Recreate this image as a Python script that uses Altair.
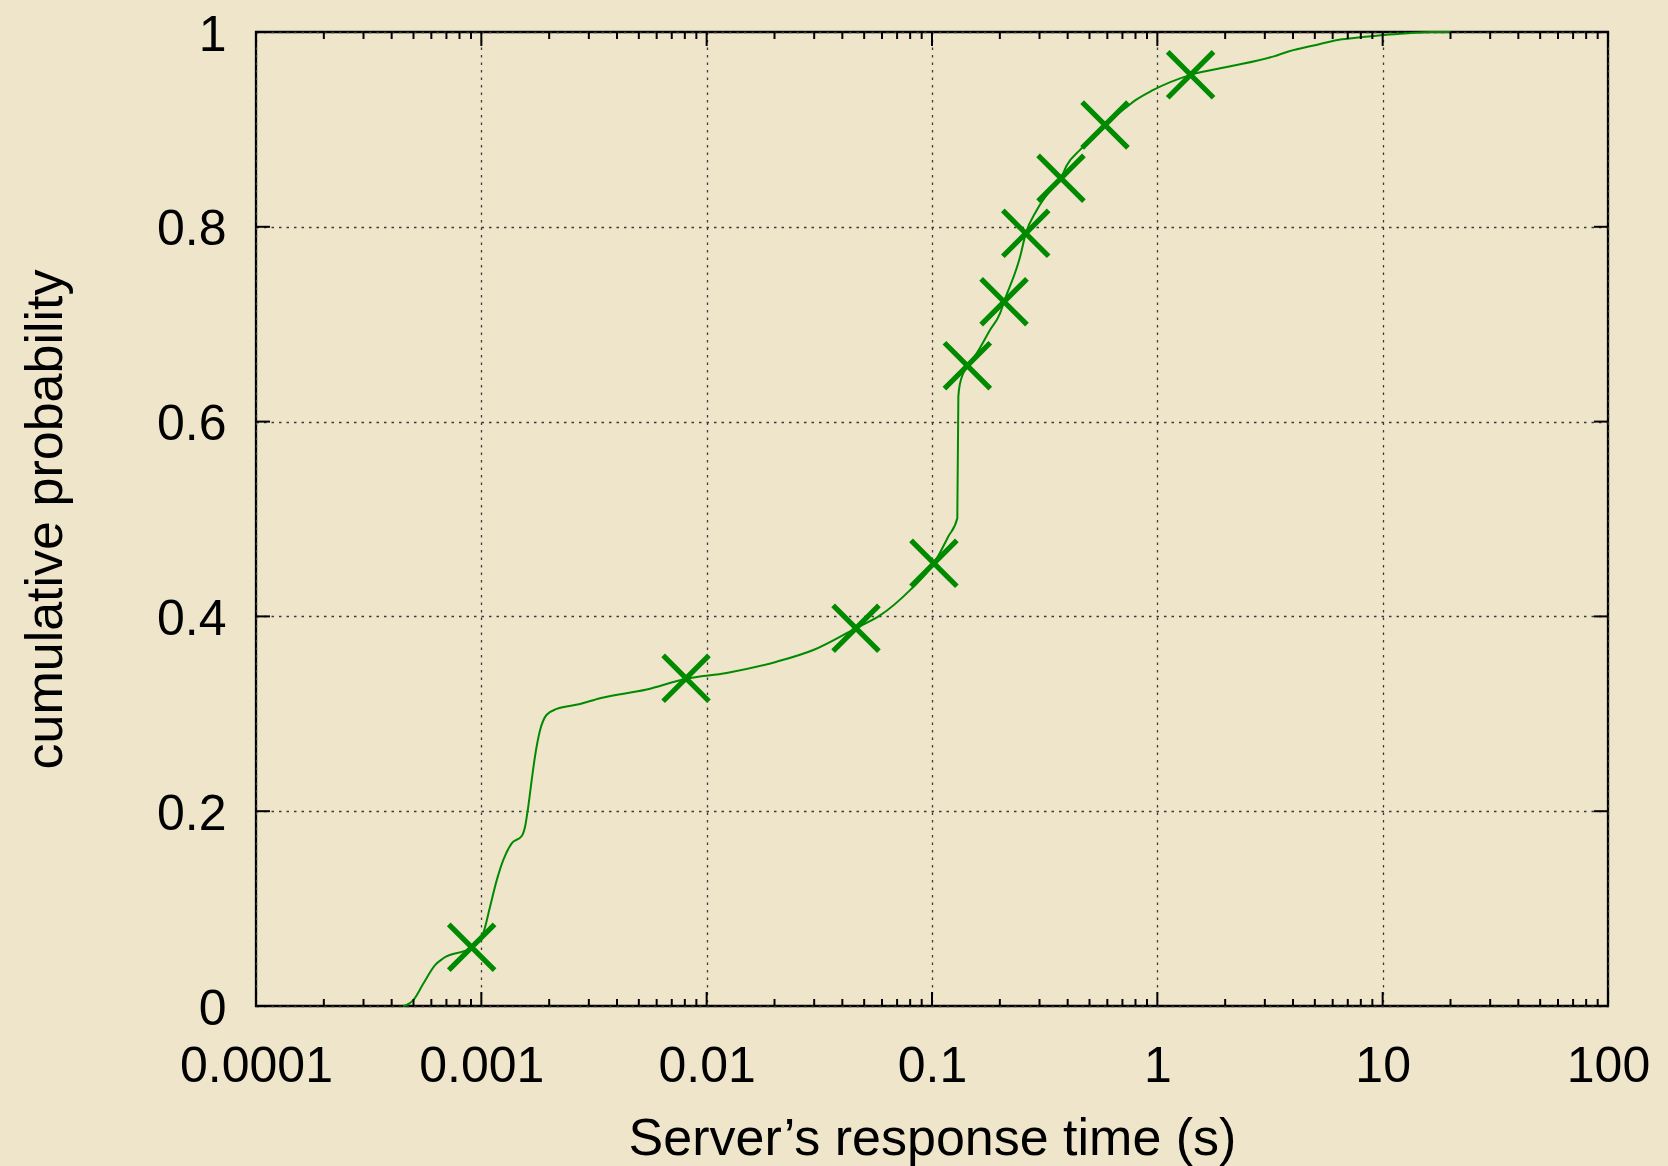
import altair as alt
import pandas as pd

# ---- data ----
curve_x = [0.000449, 0.000466, 0.000499, 0.000553, 0.000623, 0.000678, 0.000906, 0.00102,
           0.001093, 0.00117, 0.001252, 0.001364, 0.001511, 0.001563, 0.001616, 0.001673,
           0.00173, 0.001822, 0.00195, 0.00216, 0.00274, 0.00336, 0.00542, 0.0081, 0.01227,
           0.02046, 0.02974, 0.046, 0.0588, 0.0799, 0.102, 0.1181, 0.1295, 0.1309, 0.1331,
           0.1435, 0.1578, 0.1809, 0.2004, 0.2088, 0.2458, 0.2606, 0.2915, 0.3454, 0.3737,
           0.396, 0.454, 0.5027, 0.586, 0.731, 0.80, 0.95, 1.405, 2.03, 3.29, 3.82, 5.13,
           6.4, 8.0, 10.2, 12.96, 16.5, 20.0]
curve_p = [0.0, 0.001, 0.006, 0.023, 0.042, 0.049, 0.060, 0.075,
           0.102, 0.129, 0.150, 0.167, 0.1745, 0.184, 0.205, 0.232,
           0.256, 0.283, 0.299, 0.305, 0.310, 0.316, 0.325, 0.336, 0.342,
           0.3535, 0.3655, 0.388, 0.401, 0.427, 0.4545, 0.482, 0.5007, 0.6256, 0.639,
           0.657, 0.670, 0.694, 0.711, 0.723, 0.769, 0.793, 0.817, 0.841, 0.850,
           0.863, 0.879, 0.889, 0.9045, 0.923, 0.930, 0.940, 0.956, 0.964, 0.975, 0.980, 0.987,
           0.992, 0.9945, 0.997, 0.9987, 1.0, 1.0]

marker_x = [0.000906, 0.0081, 0.046, 0.102, 0.1435, 0.2088, 0.2606, 0.3737, 0.586, 1.405]
marker_p = [0.0603, 0.3364, 0.3878, 0.4545, 0.6574, 0.7231, 0.7933, 0.8498, 0.9045, 0.956]

x_major = [0.0001, 0.001, 0.01, 0.1, 1, 10, 100]
y_major = [0, 0.2, 0.4, 0.6, 0.8, 1.0]
minor_mult = [2, 3, 4, 5, 6, 7, 8, 9]

x_title = "Server’s response time (s)"
y_title = "cumulative probability"

# ---- styling ----
W, H = 1352, 974
GREEN = "#008A00"
BG = "#EFE5CA"
FONT = "Liberation Sans"
FS = 50
TFS = 52
MAJ, MIN = 14, 7

curve_df = pd.DataFrame({"t": curve_x, "p": curve_p})
marker_df = pd.DataFrame({"t": marker_x, "p": marker_p})
xmaj_df = pd.DataFrame({"t": x_major})
xmin_df = pd.DataFrame({"t": [m * d for d in x_major[:-1] for m in minor_mult]})
ymaj_df = pd.DataFrame({"p": y_major})

xscale = alt.Scale(type="log", domain=[0.0001, 100])
yscale = alt.Scale(domain=[0, 1])

x_axis = alt.Axis(
    values=x_major, format="~g", ticks=False, tickSize=0, domain=False,
    labelPadding=35, labelFontSize=FS, labelFont=FONT, labelColor="black",
    labelFlush=False, labelOverlap=False,
    grid=True, gridDash=[2.5, 5], gridColor="#3a3a3a", gridWidth=1.3,
    title=x_title, titleFontSize=TFS, titleFont=FONT, titleFontWeight="normal",
    titleColor="black", titleBaseline="alphabetic", titleY=148, titleX=W / 2,
)
y_axis = alt.Axis(
    values=y_major, format="~g", ticks=False, tickSize=0, domain=False,
    labelPadding=30, labelOffset=3, labelFontSize=FS, labelFont=FONT, labelColor="black",
    labelFlush=False, labelOverlap=False,
    grid=True, gridDash=[2.5, 5], gridColor="#3a3a3a", gridWidth=1.3,
    title=y_title, titleFontSize=TFS, titleFont=FONT, titleFontWeight="normal",
    titleColor="black", titleBaseline="alphabetic", titleX=-195, titleY=H / 2,
)

X = alt.X("t:Q", scale=xscale, axis=x_axis, title=x_title)
Y = alt.Y("p:Q", scale=yscale, axis=y_axis, title=y_title)

line = alt.Chart(curve_df).mark_line(color=GREEN, strokeWidth=2, interpolate="monotone").encode(
    x=X, y=Y,
)

points = alt.Chart(marker_df).mark_point(
    shape="M-1,-1L1,1M-1,1L1,-1", size=2100, strokeWidth=5.2, filled=False,
    color=GREEN, opacity=1,
).encode(x=X, y=Y)

def xticks(df, length, top):
    y0, y1 = (0, length) if top else (H, H - length)
    return alt.Chart(df).mark_rule(color="black", strokeWidth=2).encode(
        x=X, y=alt.value(y0), y2=alt.value(y1),
    )

def yticks(right):
    x0, x1 = (W, W - MAJ) if right else (0, MAJ)
    return alt.Chart(ymaj_df).mark_rule(color="black", strokeWidth=2).encode(
        y=Y, x=alt.value(x0), x2=alt.value(x1),
    )

chart = alt.layer(
    line, points,
    xticks(xmaj_df, MAJ, False), xticks(xmaj_df, MAJ, True),
    xticks(xmin_df, MIN, False), xticks(xmin_df, MIN, True),
    yticks(False), yticks(True),
).properties(
    width=W, height=H,
    autosize=alt.AutoSizeParams(type="none"),
    padding={"left": 256, "top": 32, "right": 60, "bottom": 160},
    background=BG,
).configure_view(
    stroke="black", strokeWidth=2.3,
)

chart.save("out.html", embed_options={"renderer": "svg", "actions": False})
